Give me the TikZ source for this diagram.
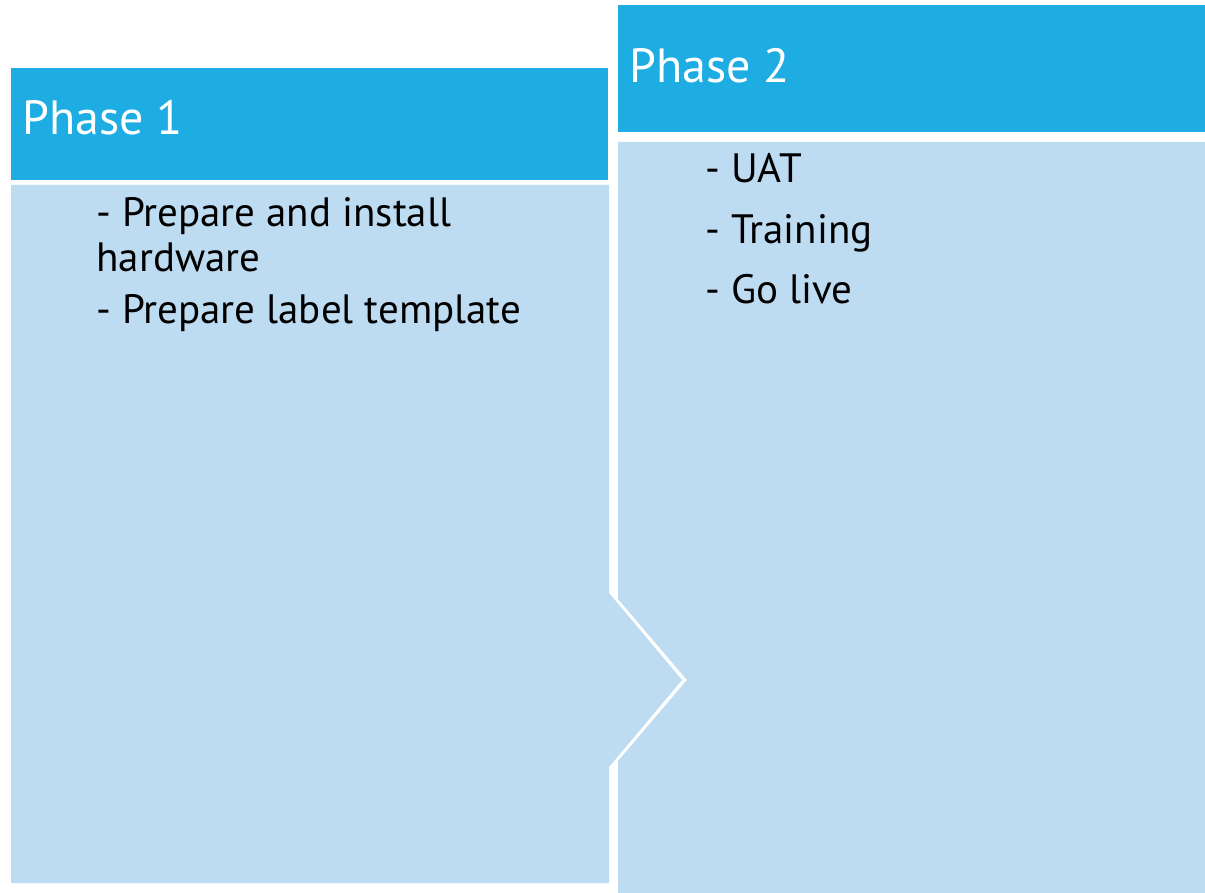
\documentclass[tikz,border=0pt]{standalone}
\usepackage{fontspec}
\setmainfont{PT Sans}
\definecolor{phasehead}{RGB}{30,173,227}
\definecolor{phasebody}{RGB}{189,219,241}

\begin{document}
\begin{tikzpicture}[x=0.5pt, y=-0.5pt]
		\useasboundingbox (0,0) rectangle (1205,893);
		% bodies, phase 1 points into phase 2
		\fill[phasebody] (11,185) -- (609,185) -- (609,593) -- (682,680) -- (609,767) -- (609,883) -- (11,883) -- cycle;
		\fill[phasebody] (618,142) -- (1205,142) -- (1205,893) -- (618,893) -- (618,761) -- (687,680) -- (618,599) -- cycle;
		% headers
		\fill[phasehead] (11,68) rectangle (608,180);
		\fill[phasehead] (618,5) rectangle (1205,132);
		\begin{scope}[every node/.style={anchor=base west, inner sep=0pt, white, font=\fontsize{24}{26}\selectfont}]
			\node (ph1) at (22,135) {Phase 1};
			\node (ph2) at (629,83) {Phase 2};
		\end{scope}
		\begin{scope}[every node/.style={anchor=base west, inner sep=0pt, align=left, font=\fontsize{20.5}{22}\selectfont}]
			\node (hw) at (96,271) {- Prepare and install\\hardware}; % base = last line
			\node (lbl) at (96,323) {- Prepare label template};
			\node (uat) at (705,183) {- UAT};
			\node (trn) at (705,244) {- Training};
			\node (live) at (705,304) {- Go live};
		\end{scope}
	\end{tikzpicture}
\end{document}
